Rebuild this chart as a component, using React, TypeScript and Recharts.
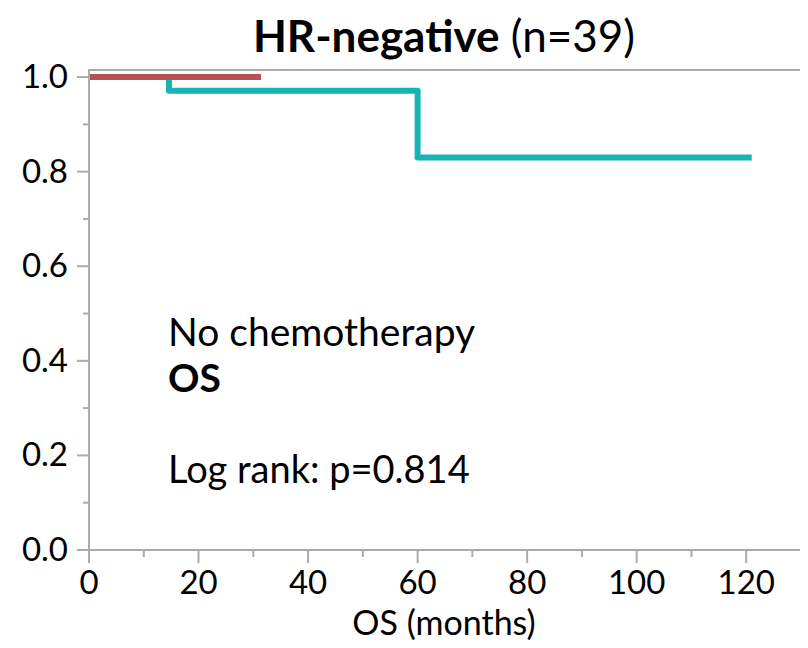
import React from "react";
import { LineChart, Line, XAxis, YAxis, ReferenceArea } from "recharts";

const noChemoTime = [0, 14.6, 60, 121];
const noChemoSurv = [1.0, 0.971, 0.83, 0.83];
const chemoTime = [0, 31.4];
const chemoSurv = [1.0, 1.0];
const xTicks = [0, 10, 20, 30, 40, 50, 60, 70, 80, 90, 100, 110, 120, 130];
const xMajor = [0, 20, 40, 60, 80, 100, 120];
const yTicks = [0, 0.1, 0.2, 0.3, 0.4, 0.5, 0.6, 0.7, 0.8, 0.9, 1.0];
const yMajor = [0, 0.2, 0.4, 0.6, 0.8, 1.0];

const title = "HR-negative";
const subtitle = " (n=39)";
const xLabel = "OS (months)";
const note1 = "No chemotherapy";
const note2 = "OS";
const note3 = "Log rank: p=0.814";

const noChemo = noChemoTime.map((t, i) => ({ t, s: noChemoSurv[i] }));
const chemo = chemoTime.map((t, i) => ({ t, s: chemoSurv[i] }));

const FONT = "Lato, 'Open Sans', sans-serif";
const AXIS = "#ababab";

const W = 800;
const H = 640;

const XTick = (props: any) => {
  const { x, y, payload } = props;
  const v = payload.value;
  const major = xMajor.some((m) => Math.abs(m - v) < 1e-6);
  return (
    <g>
      <line x1={x} x2={x} y1={y} y2={y + (major ? 13 : 7)} stroke={AXIS} strokeWidth={2} />
      {major && (
        <text x={x} y={y + 44} textAnchor="middle" fontFamily={FONT} fontSize={33} fill="#000">
          {v}
        </text>
      )}
    </g>
  );
};

const YTick = (props: any) => {
  const { x, y, payload } = props;
  const v = payload.value;
  const major = yMajor.some((m) => Math.abs(m - v) < 1e-6);
  return (
    <g>
      <line x1={x} x2={x - (major ? 12 : 6)} y1={y} y2={y} stroke={AXIS} strokeWidth={2} />
      {major && (
        <text x={x - 21} y={y + 11} textAnchor="end" fontFamily={FONT} fontSize={33} fill="#000">
          {v.toFixed(1)}
        </text>
      )}
    </g>
  );
};

export default function App() {
  return (
    <div style={{ position: "relative", width: W, height: H }}>
      <LineChart width={W} height={H} margin={{ top: 62, right: 7, left: 0, bottom: 0 }}>
        <XAxis
          type="number"
          dataKey="t"
          domain={[0, 130]}
          ticks={xTicks}
          interval={0}
          tickSize={0}
          tickMargin={0}
          tickLine={false}
          tick={<XTick />}
          height={98}
          axisLine={{ stroke: AXIS, strokeWidth: 2 }}
          allowDataOverflow
        />
        <YAxis
          type="number"
          dataKey="s"
          domain={[0, 1.015]}
          ticks={yTicks}
          interval={0}
          tickSize={0}
          tickMargin={0}
          tickLine={false}
          tick={<YTick />}
          width={81}
          axisLine={{ stroke: AXIS, strokeWidth: 2 }}
          allowDataOverflow
        />
        <ReferenceArea x1={0} x2={130} y1={0} y2={1.015} fill="none" stroke={AXIS} strokeWidth={2} ifOverflow="extendDomain" />
        <Line
          data={noChemo}
          dataKey="s"
          type="stepAfter"
          stroke="#17b4b6"
          strokeWidth={6}
          strokeLinejoin="round"
          dot={false}
          isAnimationActive={false}
        />
        <Line
          data={chemo}
          dataKey="s"
          type="stepAfter"
          stroke="#b94f56"
          strokeWidth={6}
          dot={false}
          isAnimationActive={false}
        />
      </LineChart>
      <svg width={W} height={H} style={{ position: "absolute", left: 0, top: 0, pointerEvents: "none" }}>
        <text x={436} y={44} textAnchor="middle" fontFamily={FONT} fontSize={44} fill="#000">
          <tspan fontWeight="bold">{title}</tspan>
          <tspan>{subtitle}</tspan>
        </text>
        <text x={160} y={338} fontFamily={FONT} fontSize={39} fill="#000">{note1}</text>
        <text x={160} y={384} fontFamily={FONT} fontSize={39} fontWeight="bold" fill="#000">{note2}</text>
        <text x={160} y={475} fontFamily={FONT} fontSize={38} fill="#000">{note3}</text>
        <text x={436} y={627} textAnchor="middle" fontFamily={FONT} fontSize={34} fill="#000">{xLabel}</text>
      </svg>
    </div>
  );
}
